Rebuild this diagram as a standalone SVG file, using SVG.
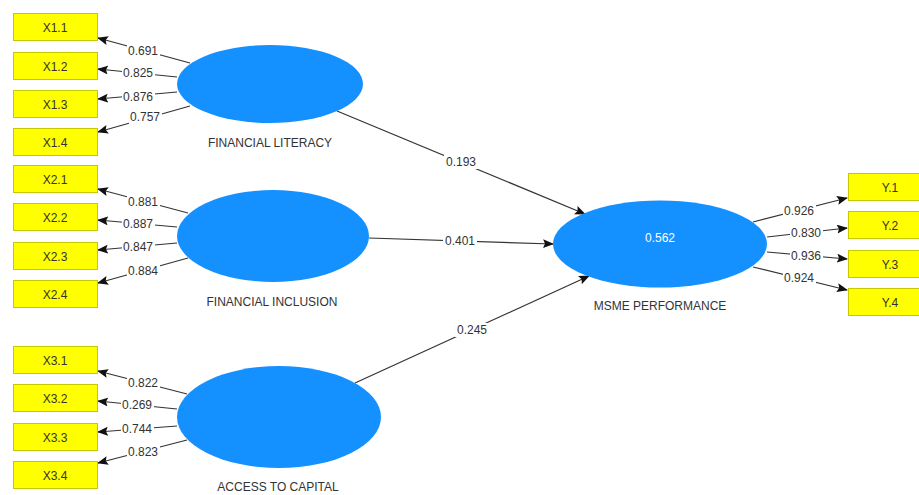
<svg xmlns="http://www.w3.org/2000/svg" width="919" height="495" viewBox="0 0 919 495">
  <style>
    text { font-family: "Liberation Sans", Arial, sans-serif; font-size: 12px; fill: #333333; text-anchor: middle; }
    .ind rect { fill: #ffff00; stroke: #c8c800; stroke-width: 1; }
    .lv { fill: #1591ff; }
    .lv-val { fill: #ffffff; }
    .edge { stroke: #333333; stroke-width: 1.2; fill: none; marker-end: url(#arrow); }
    .tag { fill: #ffffff; }
  </style>
  <defs>
    <marker id="arrow" markerUnits="userSpaceOnUse" markerWidth="11" markerHeight="10" refX="10" refY="4.5" orient="auto">
      <path d="M0,0 L11,4.5 L0,9 L2,4.5 z" fill="#111111"/>
    </marker>
  </defs>

  <rect width="919" height="495" fill="#ffffff"/>

  <!-- connectors -->
  <g id="connectors">
    <!-- structural paths -->
    <line class="edge" x1="337" y1="111" x2="585" y2="214"/>
    <line class="edge" x1="369" y1="238" x2="553" y2="244"/>
    <line class="edge" x1="355" y1="383" x2="589" y2="276"/>
    <!-- FINANCIAL LITERACY loadings -->
    <line class="edge" x1="190" y1="63" x2="98" y2="38"/>
    <line class="edge" x1="177" y1="77" x2="98" y2="69"/>
    <line class="edge" x1="177" y1="92" x2="98" y2="99"/>
    <line class="edge" x1="190" y1="106" x2="98" y2="132"/>
    <!-- FINANCIAL INCLUSION loadings -->
    <line class="edge" x1="188" y1="213" x2="98" y2="189"/>
    <line class="edge" x1="177" y1="227" x2="98" y2="220"/>
    <line class="edge" x1="177" y1="243" x2="98" y2="250"/>
    <line class="edge" x1="188" y1="258" x2="98" y2="283"/>
    <!-- ACCESS TO CAPITAL loadings -->
    <line class="edge" x1="187" y1="394" x2="98" y2="371"/>
    <line class="edge" x1="177" y1="409" x2="98" y2="401"/>
    <line class="edge" x1="177" y1="426" x2="98" y2="432"/>
    <line class="edge" x1="187" y1="440" x2="98" y2="463"/>
    <!-- MSME PERFORMANCE loadings -->
    <line class="edge" x1="753" y1="222" x2="847" y2="198"/>
    <line class="edge" x1="767" y1="237" x2="847" y2="228"/>
    <line class="edge" x1="767" y1="252" x2="847" y2="259"/>
    <line class="edge" x1="753" y1="267" x2="847" y2="290"/>

    <!-- coefficient labels -->
    <g>
      <rect class="tag" x="444" y="155" width="34" height="14"/><text x="461" y="166">0.193</text>
      <rect class="tag" x="443" y="234" width="34" height="14"/><text x="460" y="245">0.401</text>
      <rect class="tag" x="455" y="323" width="34" height="14"/><text x="472" y="334">0.245</text>

      <rect class="tag" x="127" y="44" width="33" height="14"/><text x="143" y="55">0.691</text>
      <rect class="tag" x="122" y="66" width="33" height="14"/><text x="138" y="77">0.825</text>
      <rect class="tag" x="122" y="90" width="33" height="14"/><text x="138" y="101">0.876</text>
      <rect class="tag" x="129" y="110" width="33" height="14"/><text x="145" y="121">0.757</text>

      <rect class="tag" x="127" y="195" width="33" height="14"/><text x="143" y="206">0.881</text>
      <rect class="tag" x="122" y="217" width="33" height="14"/><text x="138" y="228">0.887</text>
      <rect class="tag" x="122" y="240" width="33" height="14"/><text x="138" y="251">0.847</text>
      <rect class="tag" x="127" y="264" width="33" height="14"/><text x="143" y="275">0.884</text>

      <rect class="tag" x="127" y="376" width="33" height="14"/><text x="143" y="387">0.822</text>
      <rect class="tag" x="121" y="398" width="33" height="14"/><text x="137" y="409">0.269</text>
      <rect class="tag" x="121" y="422" width="33" height="14"/><text x="137" y="433">0.744</text>
      <rect class="tag" x="127" y="445" width="33" height="14"/><text x="143" y="456">0.823</text>

      <rect class="tag" x="783" y="204" width="33" height="14"/><text x="799" y="215">0.926</text>
      <rect class="tag" x="790" y="226" width="33" height="14"/><text x="806" y="237">0.830</text>
      <rect class="tag" x="790" y="249" width="33" height="14"/><text x="806" y="260">0.936</text>
      <rect class="tag" x="783" y="271" width="33" height="14"/><text x="799" y="282">0.924</text>
    </g>
  </g>

  <!-- latent variables -->
  <g id="financial-literacy">
    <ellipse class="lv" cx="270" cy="84" rx="93" ry="39"/>
    <text x="270" y="147">FINANCIAL LITERACY</text>
  </g>
  <g id="financial-inclusion">
    <ellipse class="lv" cx="273" cy="236" rx="96" ry="46"/>
    <text x="272" y="306">FINANCIAL INCLUSION</text>
  </g>
  <g id="access-to-capital">
    <ellipse class="lv" cx="279" cy="417" rx="102" ry="51"/>
    <text x="278" y="491">ACCESS TO CAPITAL</text>
  </g>
  <g id="msme-performance">
    <ellipse class="lv" cx="660" cy="244" rx="107" ry="43.5"/>
    <text class="lv-val" x="660" y="242">0.562</text>
    <text x="660" y="310">MSME PERFORMANCE</text>
  </g>

  <!-- indicators -->
  <g id="x1-1" class="ind"><rect x="13.5" y="13.5" width="84" height="27"/><text x="55" y="32">X1.1</text></g>
  <g id="x1-2" class="ind"><rect x="13.5" y="52.5" width="84" height="27"/><text x="55" y="71">X1.2</text></g>
  <g id="x1-3" class="ind"><rect x="13.5" y="90.5" width="84" height="27"/><text x="55" y="109">X1.3</text></g>
  <g id="x1-4" class="ind"><rect x="13.5" y="128.5" width="84" height="27"/><text x="55" y="147">X1.4</text></g>

  <g id="x2-1" class="ind"><rect x="13.5" y="165.5" width="84" height="27"/><text x="55" y="184">X2.1</text></g>
  <g id="x2-2" class="ind"><rect x="13.5" y="203.5" width="84" height="27"/><text x="55" y="222">X2.2</text></g>
  <g id="x2-3" class="ind"><rect x="13.5" y="242.5" width="84" height="27"/><text x="55" y="261">X2.3</text></g>
  <g id="x2-4" class="ind"><rect x="13.5" y="280.5" width="84" height="27"/><text x="55" y="299">X2.4</text></g>

  <g id="x3-1" class="ind"><rect x="13.5" y="346.5" width="84" height="27"/><text x="55" y="365">X3.1</text></g>
  <g id="x3-2" class="ind"><rect x="13.5" y="384.5" width="84" height="27"/><text x="55" y="403">X3.2</text></g>
  <g id="x3-3" class="ind"><rect x="13.5" y="423.5" width="84" height="27"/><text x="55" y="442">X3.3</text></g>
  <g id="x3-4" class="ind"><rect x="13.5" y="461.5" width="84" height="27"/><text x="55" y="480">X3.4</text></g>

  <g id="y1" class="ind"><rect x="848.5" y="173.5" width="84" height="27"/><text x="890" y="192">Y.1</text></g>
  <g id="y2" class="ind"><rect x="848.5" y="211.5" width="84" height="27"/><text x="890" y="230">Y.2</text></g>
  <g id="y3" class="ind"><rect x="848.5" y="250.5" width="84" height="27"/><text x="890" y="269">Y.3</text></g>
  <g id="y4" class="ind"><rect x="848.5" y="288.5" width="84" height="27"/><text x="890" y="307">Y.4</text></g>
</svg>
